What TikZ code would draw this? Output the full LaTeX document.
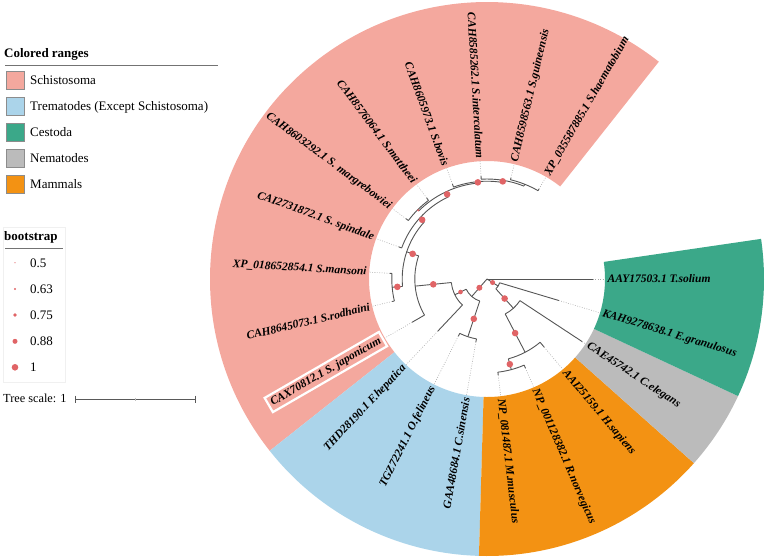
\documentclass[tikz,border=0pt]{standalone}
\usepackage{fontspec}
\setmainfont{Liberation Serif}
\definecolor{cSchi}{HTML}{F4A89E}
\definecolor{cTrem}{HTML}{ABD4EA}
\definecolor{cCest}{HTML}{3BA889}
\definecolor{cNema}{HTML}{BBBBBB}
\definecolor{cMamm}{HTML}{F39213}
\definecolor{cBoot}{HTML}{E06466}
\definecolor{cBranch}{HTML}{555555}
\definecolor{cDot}{HTML}{A8A8A8}
\tikzset{
  branch/.style={draw=cBranch, line width=0.9pt},
  leafdot/.style={draw=cDot, line width=0.6pt, dash pattern=on 0.8pt off 1.6pt},
  lbl/.style={font=\fontsize{11.5}{13}\selectfont\bfseries\itshape, inner sep=1.5pt, text=black},
  legtxt/.style={font=\fontsize{13}{15}\selectfont, inner sep=0pt, anchor=base west},
  legtitle/.style={font=\fontsize{13}{15}\selectfont\bfseries, inner sep=0pt, anchor=base west},
  swatch/.style={draw=black!45, line width=0.6pt},
}
\newcommand\trRad[3]{\draw[branch] (#1:#2pt) -- (#1:#3pt);}
\newcommand\trArc[3]{\draw[branch] (#1:#3pt) arc[start angle=#1, end angle=#2, radius=#3pt];}
\newcommand\trBoot[3]{\fill[cBoot] (#1:#2pt) circle[radius=#3pt];}
\newcommand\trLeafR[5]{\trRad{#1}{#2}{#3}\draw[leafdot] (#1:#3pt) -- (#1:118pt);
  \node[lbl, anchor=west, rotate=#1] (#4) at (#1:119pt) {#5};}
\newcommand\trLeafL[5]{\trRad{#1}{#2}{#3}\draw[leafdot] (#1:#3pt) -- (#1:118pt);
  \node[lbl, anchor=east, rotate=#1-180] (#4) at (#1:119pt) {#5};}
\newcommand\trRange[3]{\fill[#3] (#1:118pt) arc[start angle=#1, end angle=#2, radius=118pt]
  -- (#2:277pt) arc[start angle=#2, end angle=#1, radius=277pt] -- cycle;}
\begin{document}
\begin{tikzpicture}[x=1pt,y=1pt]
\useasboundingbox (0,0) rectangle (767,-558);
% ---------------- legend: colored ranges
\node[legtitle] (lgT) at (4,-57) {Colored ranges};
\draw[black!55, line width=0.7pt] (5,-65) -- (218,-65);
\draw[swatch, fill=cSchi] (6,-71) rectangle (24,-89);
\node[legtxt] (lg1) at (30,-84.5) {Schistosoma};
\draw[swatch, fill=cTrem] (6,-97) rectangle (24,-115);
\node[legtxt] (lg2) at (30,-110.5) {Trematodes (Except Schistosoma)};
\draw[swatch, fill=cCest] (6,-123) rectangle (24,-141);
\node[legtxt] (lg3) at (30,-136.5) {Cestoda};
\draw[swatch, fill=cNema] (6,-149) rectangle (24,-167);
\node[legtxt] (lg4) at (30,-162.5) {Nematodes};
\draw[swatch, fill=cMamm] (6,-175) rectangle (24,-193);
\node[legtxt] (lg5) at (30,-188.5) {Mammals};
% ---------------- legend: bootstrap
\draw[black!6, line width=0.6pt] (3,-227) rectangle (65,-382);
\node[legtitle] (lbT) at (4,-240) {bootstrap};
\draw[black!55, line width=0.7pt] (5,-248.3) -- (63,-248.3);
\fill[cBoot] (15,-262.7) circle[radius=0.7];
\node[legtxt] (lb1) at (30,-267) {0.5};
\fill[cBoot] (15,-289) circle[radius=1.2];
\node[legtxt] (lb2) at (30,-293.3) {0.63};
\fill[cBoot] (15,-315) circle[radius=1.8];
\node[legtxt] (lb3) at (30,-319.5) {0.75};
\fill[cBoot] (15,-341.3) circle[radius=2.5];
\node[legtxt] (lb4) at (30,-345.7) {0.88};
\fill[cBoot] (15,-367.3) circle[radius=3.3];
\node[legtxt] (lb5) at (30,-371.8) {1};
% ---------------- tree scale
\node[legtxt, font=\fontsize{12.3}{14}\selectfont] (ts) at (3,-402.7) {Tree scale: 1};
\draw[black!65, line width=0.7pt] (75,-399) -- (195,-399);
\draw[black!65, line width=0.7pt] (75,-395.5) -- (75,-402.5);
\draw[black!65, line width=0.7pt] (195,-395.5) -- (195,-402.5);
\draw[black!25, line width=0.5pt] (135,-397.5) -- (135,-400.5);
% ---------------- circular tree
\begin{scope}[shift={(487pt,-279pt)}]
\trRange{51.667}{218.333}{cSchi}
\trRange{218.333}{268.333}{cTrem}
\trRange{268.333}{318.333}{cMamm}
\trRange{318.333}{335}{cNema}
\trRange{335}{368.333}{cCest}
% root
\trRad{327.7}{0}{13.2}
\trRad{228.9}{0}{23.2}
\trLeafR{0}{0}{106}{solium}{AAY17503.1 T.solium}
% A
\trArc{312.08}{343.333}{13.2}
\trLeafR{343.333}{13.2}{75}{granulosus}{KAH9278638.1 E.granulosus}
\trRad{312.08}{13.2}{39.4}
% B
\trArc{297.5}{326.667}{39.4}
\trLeafR{326.667}{39.4}{114}{elegans}{CAE45742.1 C.elegans}
\trRad{297.5}{39.4}{82.6}
% M
\trArc{285}{310}{82.6}
\trLeafR{310}{82.6}{89}{sapiens}{AAI25159.1 H.sapiens}
\trRad{285}{82.6}{93.8}
% mouse-rat
\trArc{276.667}{293.333}{93.8}
\trLeafR{276.667}{93.8}{97}{musculus}{NP\_081487.1 M.musculus}
\trLeafR{293.333}{93.8}{97}{norvegicus}{NP\_001128382.1 R.norvegicus}
% T
\trArc{206.16}{251.667}{23.2}
\trRad{206.16}{23.2}{35.8}
\trRad{251.667}{23.2}{60.8}
% OC
\trArc{243.333}{260}{60.8}
\trLeafL{243.333}{60.8}{64}{felineus}{TGZ72241.1 O.felineus}
\trLeafL{260}{60.8}{64}{sinensis}{GAA48684.1 C.sinensis}
% Y
\trArc{185.65}{226.667}{35.8}
\trLeafL{226.667}{35.8}{71.7}{hepatica}{THD28190.1 F.hepatica}
\trRad{185.65}{35.8}{72.2}
% S
\trArc{161.3}{210}{72.2}
\trRad{210}{72.2}{86.5}
\draw[leafdot] (210:86.5pt) -- (210:118pt);
\node[lbl, anchor=east, rotate=30, draw=white, line width=2.2pt, inner sep=3pt] (japonicum) at (210:119pt) {CAX70812.1 S. japonicum};
\trRad{161.3}{72.2}{84.8}
% R
\trArc{137.6}{185}{84.8}
\trRad{185}{84.8}{95.2}
\trRad{137.6}{84.8}{90.8}
% MR
\trArc{176.667}{193.333}{95.2}
\trLeafL{176.667}{95.2}{97.5}{mansoni}{XP\_018652854.1 S.mansoni}
\trLeafL{193.333}{95.2}{97.5}{rodhaini}{CAH8645073.1 S.rodhaini}
% Q
\trArc{115.21}{160}{90.8}
\trLeafL{160}{90.8}{94}{spindale}{CAI2731872.1 S. spindale}
\trRad{115.21}{90.8}{96.4}
% P
\trArc{95.42}{135}{96.4}
\trRad{135}{96.4}{98}
\trRad{95.42}{96.4}{97.8}
% MarMat
\trArc{126.667}{143.333}{98}
\trLeafL{126.667}{98}{101}{mattheei}{CAH8576064.1 S.mattheei}
\trLeafL{143.333}{98}{101}{margrebowiei}{CAH8603292.1 S. margrebowiei}
% BIGH
\trArc{80.83}{110}{97.8}
\trLeafL{110}{97.8}{101}{bovis}{CAH8605973.1 S.bovis}
\trRad{80.83}{97.8}{100}
% IGH
\trArc{68.33}{93.333}{100}
\trLeafL{93.333}{100}{103}{intercalatum}{CAH8585262.1 S.intercalatum}
\trRad{68.33}{100}{102}
% GH
\trArc{60}{76.667}{102}
\trLeafR{60}{102}{104}{haematobium}{XP\_035587885.1 S.haematobium}
\trLeafR{76.667}{102}{104}{guineensis}{CAH8598563.1 S.guineensis}
% bootstrap symbols
\trBoot{327.7}{6.6}{2.5}
\trBoot{312.08}{26.3}{3.3}
\trBoot{297.5}{61}{3.3}
\trBoot{285}{88.2}{3.3}
\trBoot{228.9}{11.6}{3.0}
\trBoot{251.667}{42}{3.3}
\trBoot{206.16}{29.5}{2.3}
\trBoot{185.65}{54}{3.3}
\trBoot{161.3}{78.5}{3.3}
\trBoot{185}{90}{3.3}
\trBoot{137.6}{87.8}{3.3}
\trBoot{115.21}{93.6}{3.3}
\trBoot{135}{97.2}{1.2}
\trBoot{95.42}{97.1}{3.3}
\trBoot{80.83}{98.9}{3.3}
\end{scope}
\end{tikzpicture}
\end{document}
